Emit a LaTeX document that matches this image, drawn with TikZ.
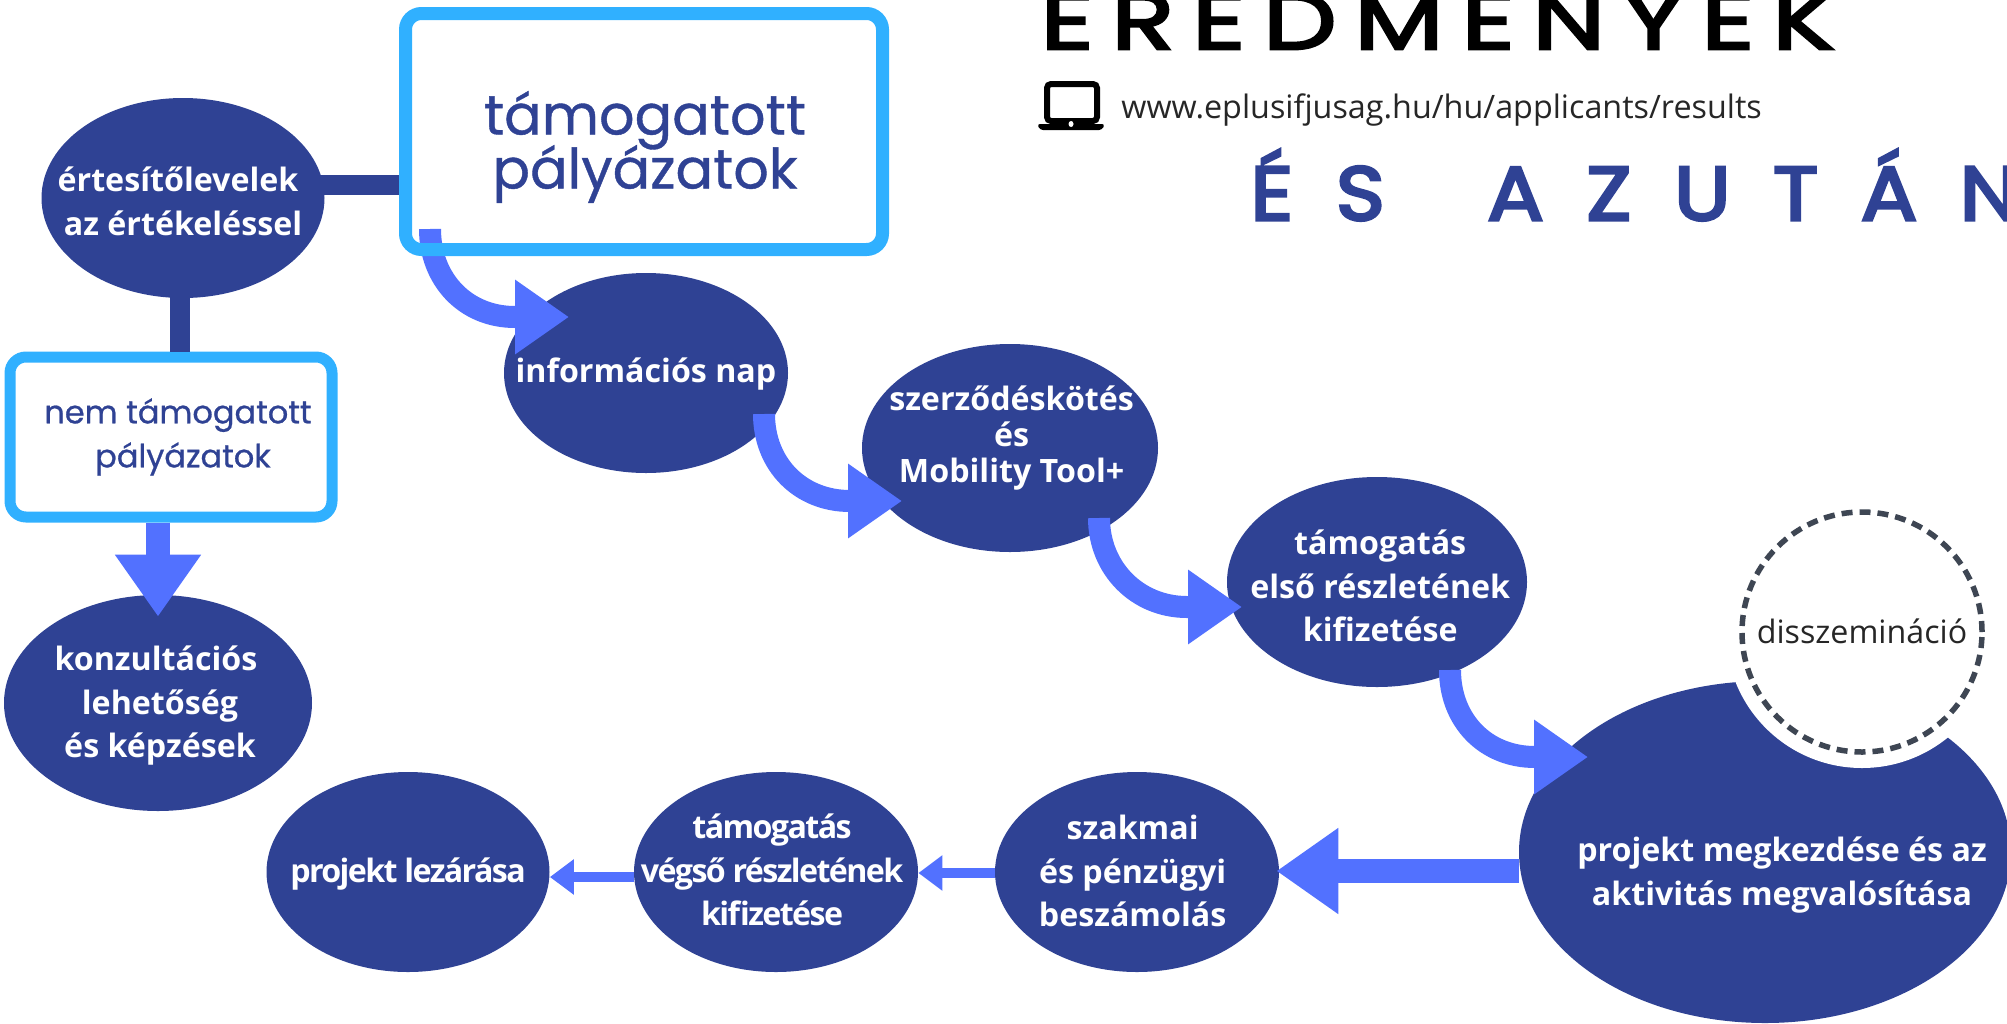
\documentclass[tikz,border=0pt]{standalone}
\usepackage{fontspec}
\usetikzlibrary{shapes.geometric,arrows.meta,calc}
\setmainfont{Open Sans}
\newfontfamily\tightfont[LetterSpace=-5]{Open Sans}
\newfontfamily\headfont[LetterSpace=22,FakeStretch=1.3,FakeBold=3.5]{Poppins}
\newfontfamily\subfont[LetterSpace=56,FakeStretch=1.1,FakeBold=4]{Poppins}
\newfontfamily\boxfont[FakeBold=0.7]{Poppins}
\newcommand{\tightlines}{\lineskiplimit=-100pt\relax}
\definecolor{navy}{HTML}{2F4294}
\definecolor{sky}{HTML}{30B0FF}
\definecolor{flow}{HTML}{5271FF}
\definecolor{dashc}{HTML}{3E4653}
\tikzset{
  x=0.5pt,y=-0.5pt,
  stage/.style={ellipse,fill=navy,inner sep=0pt},
  stagetext/.style={text=white,align=center,inner sep=0pt,font=\fontsize{16.1}{21.8}\selectfont\bfseries},
  linkbar/.style={draw=navy,line width=10pt},
  curveflow/.style={draw=flow,line width=11pt,-{Triangle[length=27pt,width=35.500pt]}},
  bigflow/.style={draw=flow,line width=12pt,-{Triangle[length=31pt,width=41pt]}},
  smallflow/.style={draw=flow,line width=4.75pt,-{Triangle[length=12pt,width=17pt]}},
  whitebox/.style={rectangle,rounded corners=8pt,fill=white,inner sep=0pt},
}
\begin{document}
\begin{tikzpicture}
\useasboundingbox (0,0) rectangle (2007,1023);
% stages
\node[stage,minimum width=141.5pt,minimum height=100pt,label={[stagetext,yshift=-1.6pt]center:{értesítőlevelek\hspace*{5pt}\\az értékeléssel}}] (ert) at (183,198) {};
\node[stage,minimum width=154pt,minimum height=108pt,label={[stagetext,yshift=-1.3pt,xshift=-1pt]center:{konzultációs\\\hspace*{4pt}lehetőség\\\hspace*{4pt}és képzések}}] (kon) at (158,703) {};
\node[stage,minimum width=142pt,minimum height=100pt,label={[stagetext,yshift=-0.5pt]center:{információs nap}}] (inf) at (646,373) {};
\node[stage,minimum width=148pt,minimum height=104pt,label={[stagetext,yshift=5pt,xshift=0.8pt,font=\fontsize{16.1}{18.2}\selectfont\bfseries]center:{szerződéskötés\\és\\Mobility Tool+}}] (sze) at (1010,448) {};
\node[stage,minimum width=150pt,minimum height=105pt,label={[stagetext,yshift=-2pt,xshift=1.6pt]center:{támogatás\\első részletének\\kifizetése}}] (elso) at (1377,582) {};
\node[stage,minimum width=246pt,minimum height=171pt] (pro) at (1765,852) {};
\node[stagetext] (protext) at (1782,875) {projekt megkezdése és az\\aktivitás megvalósítása};
\node[stage,minimum width=142pt,minimum height=100pt,label={[stagetext,yshift=0.5pt,xshift=-2.2pt]center:{szakmai\\és pénzügyi\\beszámolás}}] (sza) at (1137,872) {};
\node[stage,minimum width=142pt,minimum height=100pt,label={[stagetext,yshift=1pt,xshift=-2pt,font=\tightfont\fontsize{16.1}{21.8}\selectfont\bfseries]center:{támogatás\\végső részletének\\kifizetése}}] (veg) at (776,872) {};
\node[stage,minimum width=141.5pt,minimum height=100pt,label={[stagetext,yshift=-1pt,font=\tightfont\fontsize{16.1}{21.8}\selectfont\bfseries]center:{projekt lezárása}}] (lez) at (408,872) {};
% boxes
\node[whitebox,minimum width=238.500pt,minimum height=118pt] (tam) at (644,131.500) {};
\node[whitebox,draw=sky,line width=5.5pt,minimum width=161pt,minimum height=80pt] (nem) at (171,437) {};
\node[text=navy,align=center,inner sep=0pt,font=\boxfont\fontsize{16}{22}\selectfont] (nemtext) at (180.500,437) {nem támogatott\hspace*{2.5pt}\\\hspace*{2.5pt}pályázatok};
% connectors
\draw[linkbar] ($(ert.east |- 0,185)+(-5,0)$) -- (tam.west |- 0,185);
\coordinate (ertfoot) at ($(ert.south)+(-3,-3)$);
\draw[linkbar] (ertfoot) -- (nem.north -| ertfoot);
\coordinate (konhead) at ($(kon.north)+(0,22)$);
\draw[bigflow] (nem.south -| kon.north) -- (konhead);
% curved flows
\coordinate (a1s) at (430,229); \coordinate (a1b) at (515,317); \coordinate (a1t) at (569,317);
\coordinate (a2s) at (764,414); \coordinate (a2b) at (850,501); \coordinate (a2t) at (902,501);
\coordinate (a3s) at (1099,518); \coordinate (a3b) at (1187,607); \coordinate (a3t) at (1242,607);
\coordinate (a4s) at (1450,670); \coordinate (a4b) at (1535,757); \coordinate (a4t) at (1588,757);
\foreach \n in {1,2,3,4}{
  \draw[curveflow] (a\n s) .. controls ($(a\n s)+(0,50)$) and ($(a\n b)+(-50,0)$) .. (a\n b) -- (a\n t);
}
% box outline above the first arrow
\node[rectangle,rounded corners=8pt,draw=sky,line width=6.5pt,minimum width=238.500pt,minimum height=118pt,inner sep=0pt] (tamb) at (644,131.500) {};
\node[text=navy,align=center,inner sep=0pt,font=\boxfont\fontsize{27.8}{27}\selectfont\tightlines] (tamtext) at (645,147) {támogatott\\pályázatok};
% lower flows
\coordinate (szahead) at ($(sza.east |- 0,871)+(-3,0)$);
\draw[bigflow] (pro.west |- 0,871) -- (szahead);
\draw[smallflow] (sza.west |- 0,873) -- (veg.east |- 0,873);
\draw[smallflow] (veg.west |- 0,877) -- (lez.east |- 0,877);
% dissemination
\node[circle,fill=white,minimum size=136pt,inner sep=0pt] (halo) at (1862,632) {};
\node[circle,draw=dashc,line width=2.75pt,dash pattern=on 5.5pt off 3.5pt,minimum size=120pt,inner sep=0pt,text=black!85] (dis) at (1862,632) {\raisebox{1pt}{\fontsize{16.1}{18}\selectfont disszemináció}};
% headings
\node[anchor=base west,inner sep=0pt,font=\headfont\fontsize{40}{40}\selectfont,text=black] (eredm) at (1040,49) {EREDMÉNYEK};
\node[anchor=base west,inner sep=0pt,font=\fontsize{16.150}{18}\selectfont,text=black!85] (url) at (1121,118) {www.eplusifjusag.hu/hu/applicants/results};
\node[anchor=base west,inner sep=0pt,font=\subfont\fontsize{38}{38}\selectfont,text=navy] (azt) at (1250,220) {ÉS\hspace{18.800pt} AZUTÁN};
% laptop
\draw[black,line width=3pt,rounded corners=2pt] (1047,84) rectangle (1097,121);
\fill[black,rounded corners=1.5pt] (1037,124) -- (1105,124) -- (1102,130) -- (1040,130) -- cycle;
\fill[white] (1071,124) ellipse [x radius=2.5,y radius=3];
\end{tikzpicture}
\end{document}
